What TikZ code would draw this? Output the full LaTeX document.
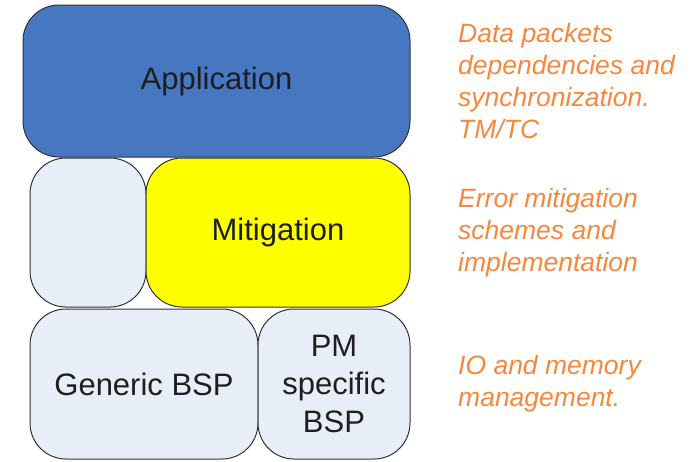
\documentclass[tikz,border=0pt]{standalone}
\usepackage{fontspec}
\setmainfont{Liberation Sans}
\usepackage{xcolor}
\definecolor{appblue}{RGB}{70,119,192}
\definecolor{bsplight}{RGB}{232,238,247}
\definecolor{mityellow}{RGB}{255,255,0}
\definecolor{noteorange}{RGB}{247,135,60}
\definecolor{boxtext}{RGB}{30,30,30}
\tikzset{layer/.style={draw=black!80, line width=1pt, rounded corners=36pt, inner sep=0pt,
    text=boxtext, font=\fontsize{31}{38}\selectfont, align=center},
  note/.style={anchor=west, text=noteorange, align=left, inner sep=0pt,
    font=\fontsize{26.5}{32}\selectfont\itshape}}

\begin{document}
\begin{tikzpicture}[x=1pt,y=-1pt]
\useasboundingbox (0,0) rectangle (693,461);
\node[layer, fill=appblue, minimum width=387, minimum height=152] (app) at (216.5,81) {Application};
\node[layer, fill=bsplight, minimum width=116, minimum height=149] (spare) at (88,232.5) {};
\node[layer, fill=mityellow, minimum width=264, minimum height=149] (mitig) at (278,232.5) {Mitigation};
\node[layer, fill=bsplight, minimum width=228, minimum height=150] (genbsp) at (144,384) {Generic BSP};
\node[layer, fill=bsplight, minimum width=152, minimum height=150] (pmbsp) at (334,384) {PM\\specific\\BSP};
% notes
\node[note] (appnote) at (458,81) {Data packets\\dependencies and\\synchronization.\\TM/TC};
\node[note] (mitnote) at (458,233) {Error mitigation\\schemes and\\implementation};
\node[note] (bspnote) at (458,384) {IO and memory\\management.};
\end{tikzpicture}
\end{document}
